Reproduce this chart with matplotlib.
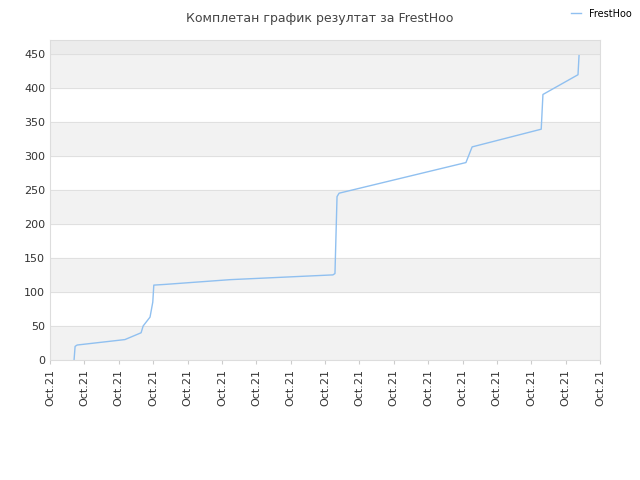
import matplotlib.pyplot as plt

# x positions in tick units (0..16), cumulative results
days = [0.70, 0.73, 0.79, 2.18, 2.65, 2.71, 2.91, 2.99, 3.02, 3.34, 5.24, 8.23, 8.29, 8.35, 8.41, 12.10, 12.28, 14.29, 14.34, 15.36, 15.39]
results = [0, 20, 22, 30, 40, 50, 63, 85, 110, 111, 118, 125, 127, 240, 245, 290, 313, 339, 390, 419, 447]
tick_labels = ["Oct.21"] * 17

fig = plt.figure(figsize=(6.4, 4.8), dpi=100)
ax = fig.add_axes([50 / 640, 120 / 480, 550 / 640, 320 / 480])

# alternating horizontal bands
for lo in range(0, 500, 50):
    if (lo // 50) % 2 == 0:
        ax.axhspan(lo, lo + 50, color="#f2f2f2", zorder=0)
ax.axhspan(450, 500, color="#ececec", zorder=0)
for y in range(50, 451, 50):
    ax.axhline(y, color="#dddddd", lw=0.6, zorder=1)

ax.plot(days, results, color="#90c0f0", lw=1, label="FrestHoo", zorder=2)

ax.set_xlim(0, 16)
ax.set_ylim(0, 470)
ax.set_xticks(range(17))
ax.set_xticklabels(tick_labels, rotation=90, fontsize=8, color="#333333")
ax.set_yticks(range(0, 451, 50))
ax.tick_params(axis="y", labelsize=8, colors="#333333", length=0)
ax.tick_params(axis="x", length=3, color="#cccccc")
for s in ax.spines.values():
    s.set_color("#dddddd")

fig.text(0.5, 0.975, "Комплетан график резултат за FrestHoo", ha="center", va="top", fontsize=9, color="#444444")
fig.legend(loc="upper right", bbox_to_anchor=(1.0, 1.0), frameon=False, fontsize=7, handlelength=1)

fig.savefig("out.png")
